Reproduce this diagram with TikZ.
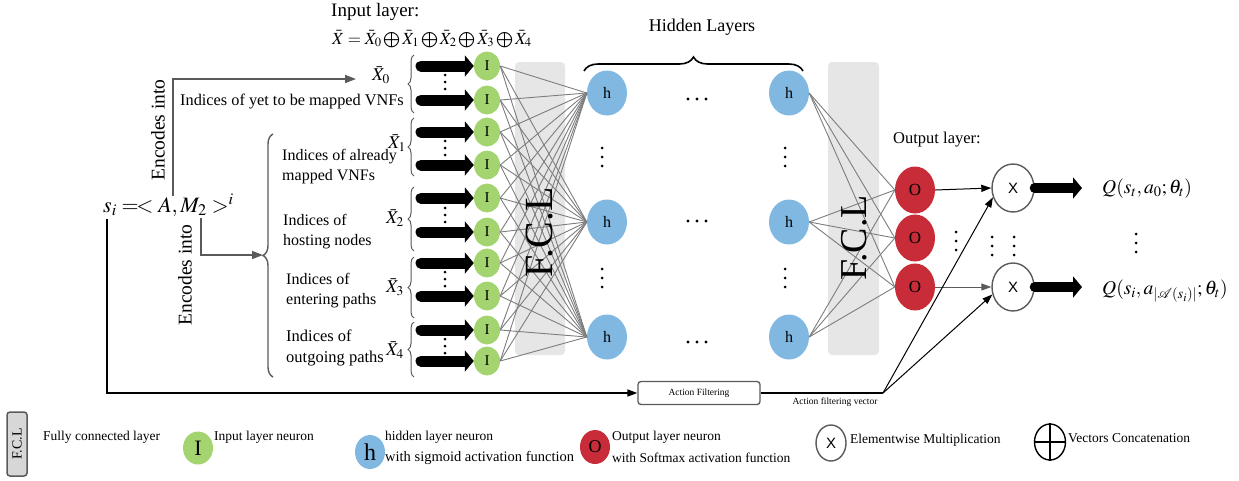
\documentclass[tikz,border=0pt]{standalone}
\usepackage{mathptmx}
\usepackage{fontspec}
\setmainfont{Liberation Serif}
\newfontfamily\xsans{Liberation Sans}
\usetikzlibrary{shapes.geometric,arrows.meta,decorations.pathreplacing,calc}
\definecolor{ingreen}{RGB}{163,212,112}
\definecolor{hblue}{RGB}{128,184,226}
\definecolor{ored}{RGB}{200,44,56}
\definecolor{fclgray}{RGB}{230,230,230}
\definecolor{wiregray}{RGB}{125,125,125}
\definecolor{linegray}{RGB}{90,90,90}
\newcommand{\setfs}[1]{\fontsize{#1}{1.25\dimexpr#1pt\relax}\selectfont}
\newcommand{\cc}{\,{\textstyle\bigoplus}\,}

\begin{document}
\begin{tikzpicture}[x=1pt,y=-1pt,
  inode/.style={ellipse,fill=ingreen,minimum width=26,minimum height=29,inner sep=0,font=\setfs{15}},
  hnode/.style={ellipse,fill=hblue,minimum width=40,minimum height=45,inner sep=0,font=\setfs{16}},
  onode/.style={ellipse,fill=ored,minimum width=40,minimum height=47,inner sep=0,font=\setfs{17}},
  xnode/.style={ellipse,draw=linegray,line width=1.4,fill=white,minimum width=42,minimum height=48,inner sep=0,font=\xsans\setfs{15}},
  fclbox/.style={rectangle,fill=fclgray,rounded corners=4,inner sep=0},
  fcltext/.style={rotate=90,font=\setfs{40}},
  wire/.style={draw=wiregray,line width=0.9},
  fat/.style={line width=11,line cap=round,-{Triangle[length=9pt,width=21pt]}},
  encarrow/.style={draw=linegray,line width=1.5,-{Triangle[length=11pt,width=8pt]}},
  grpbrace/.style={draw=linegray,line width=1,decorate,decoration={brace,amplitude=6}},
  txt/.style={font=\setfs{16},inner sep=0},
  sublab/.style={font=\setfs{18},inner sep=0},
  legtxt/.style={font=\setfs{13.5},inner sep=0,anchor=west},
  vdots/.pic={\fill (0,-#1) circle (1.5) (0,0) circle (1.5) (0,#1) circle (1.5);},
  hdots/.pic={\fill (-9,0) circle (1.7) (0,0) circle (1.7) (9,0) circle (1.7);}
]
\useasboundingbox (0,0) rectangle (1239,480);

% fully connected layer bands
\node[fclbox,minimum width=50,minimum height=293] (band1) at (540,208.5) {};
\node[fclbox,minimum width=51,minimum height=293] (band2) at (853.5,208.5) {};

% input neurons
\foreach \n/\y in {1/66,2/100,3/132,4/165,5/198,6/232,7/263,8/296,9/330,10/361}{
  \node[inode] (i\n) at (487,\y) {I};
  \coordinate (a\n) at (421,\y);
}
% hidden neurons
\foreach \n/\y in {1/93,2/222,3/337}{
  \node[hnode] (hl\n) at (607,\y) {h};
  \node[hnode] (hr\n) at (789,\y) {h};
}
% output neurons and products
\foreach \n/\y in {1/190,2/238,3/287}{
  \node[onode] (o\n) at (915,\y) {O};
}
\node[xnode] (x1) at (1013,188) {X};
\node[xnode] (x2) at (1013,287) {X};

% fully connected wiring
\foreach \i in {1,...,10}{
  \foreach \h in {1,2,3}{
    \draw[wire] (i\i.east) -- (hl\h.west);
  }
}
\foreach \h in {1,2,3}{
  \foreach \o in {1,2,3}{
    \draw[wire] (hr\h.east) -- (o\o.west);
  }
}
\node[fcltext] (fcl1) at (540,232) {F.C.L};
\node[fcltext,font=\setfs{38}] (fcl2) at (854,238) {F.C.L};

% fat input arrows
\foreach \n in {1,...,10}{
  \draw[fat] (a\n) -- (i\n.west);
}
\foreach \y in {82,148,215,279,346}{
  \pic at (445,\y) {vdots=7};
}

% group braces and sub-vector labels
\draw[grpbrace] (414,113) -- (414,55);
\draw[grpbrace] (414,176) -- (414,118);
\draw[grpbrace] (414,251) -- (414,187);
\draw[grpbrace] (414,318) -- (414,257);
\draw[grpbrace] (414,377) -- (414,322);
\node[sublab] (xb0) at (381,75) {$\bar X_0$};
\node[sublab] (xb1) at (397,143) {$\bar X_1$};
\node[sublab] (xb2) at (395,218) {$\bar X_2$};
\node[sublab] (xb3) at (395,287) {$\bar X_3$};
\node[sublab] (xb4) at (395,350) {$\bar X_4$};

% input layer heading
\node[txt,anchor=west,font=\setfs{19}] (inhead) at (331,12) {Input layer:};
\node[txt,anchor=west,font=\setfs{17}] (ineq) at (332,39)
  {$\bar X=\bar X_0\cc\bar X_1\cc\bar X_2\cc\bar X_3\cc\bar X_4$};

% hidden layers
\draw[draw=black,line width=1.6,decorate,decoration={brace,amplitude=14}] (584,71) -- (803,71);
\node[txt,font=\setfs{18}] (hidhead) at (702,27) {Hidden Layers};
\foreach \y in {99,221,342}{ \pic at (697,\y) {hdots}; }
\foreach \y in {157,278}{
  \pic at (602,\y) {vdots=9};
  \pic at (785,\y) {vdots=9};
}

% output side
\node[txt,anchor=west,font=\setfs{16.5}] (outhead) at (893,140) {Output layer:};
\draw[line width=1,-{Triangle[length=10pt,width=7pt]}] (o1.east) -- (x1.west);
\draw[draw=linegray,line width=1,-{Triangle[length=10pt,width=7pt]}] (o3.east) -- (x2.west);
\coordinate (q1) at (1082,188);
\coordinate (q2) at (1082,287);
\draw[fat,line width=10] (x1.east) -- (q1);
\draw[fat,line width=10] (x2.east) -- (q2);
\node[txt,anchor=west,font=\setfs{19.5}] (qa) at (1102,189) {$Q(s_t, a_0;\theta_t)$};
\node[txt,anchor=west,font=\setfs{19.5}] (qb) at (1102,291) {$Q(s_i, a_{|\mathcal{A}(s_i)|};\theta_t)$};
\pic at (956,241) {vdots=9};
\pic at (992,246) {vdots=9};
\pic at (1014,246) {vdots=9};
\pic at (1136,243) {vdots=9};

% state and its encodings
\node[txt,anchor=west,font=\setfs{22}] (si) at (103,205) {$s_i =\!<A, M_2>^{i}$};
\node[txt,rotate=90,font=\setfs{19.5}] (enc1) at (158,130) {Encodes into};
\node[txt,rotate=90,font=\setfs{19.5}] (enc2) at (185,275) {Encodes into};
\coordinate (e1) at (173,196);
\coordinate (e1t) at (356,79);
\draw[encarrow] (e1) |- (e1t);
\coordinate (e2) at (201,218);
\coordinate (bt) at (263,255);
\draw[encarrow] (e2) |- (bt);
\node[txt,anchor=west,font=\setfs{16.3}] (lab0) at (180,102) {Indices of yet to be mapped VNFs};
\draw[draw=linegray,line width=1.4,decorate,decoration={brace,amplitude=10}] (273,377) -- (273,134);
\node[txt,anchor=west,align=left] (lab1) at (282,167) {Indices of already\\mapped VNFs};
\node[txt,anchor=west,align=left] (lab2) at (283,232) {Indices of\\hosting nodes};
\node[txt,anchor=west,align=left] (lab3) at (286,291) {Indices of\\entering paths};
\node[txt,anchor=west,align=left,font=\setfs{16.5}] (lab4) at (286,348) {Indices of\\outgoing paths};

% action filtering
\node[draw=linegray,line width=1.3,rounded corners=3,minimum width=122,minimum height=23,inner sep=0,font=\setfs{9.5}] (af) at (699,393) {Action Filtering};
\coordinate (s0) at (107,219);
\coordinate (af1) at (883,393);
\draw[line width=1.5,-{Triangle[length=10pt,width=7pt]}] (s0) |- (af.west);
\draw[line width=1.5] (af.east) -- (af1);
\node[txt,font=\setfs{9.5}] (afv) at (835,402) {Action filtering vector};
\draw[line width=1,-{Triangle[length=10pt,width=7pt]}] (af1) -- (x1.205);
\draw[line width=1,-{Triangle[length=10pt,width=7pt]}] (af1) -- (x2.200);

% legend
\node[rectangle,draw=linegray,fill=fclgray!85!gray,line width=1.5,rounded corners=3,minimum width=20,minimum height=64,inner sep=0] (lgf) at (17,444) {};
\node[rotate=90,font=\setfs{14},inner sep=0] (lgft) at (17,444) {F.C.L};
\node[legtxt] (lgfl) at (43,437) {Fully connected layer};
\node[ellipse,fill=ingreen,minimum width=30,minimum height=33,inner sep=0,font=\setfs{22}] (lgi) at (198,448) {I};
\node[legtxt] (lgil) at (214,437) {Input layer neuron};
\node[ellipse,fill=hblue,minimum width=30,minimum height=34,inner sep=0,font=\setfs{24}] (lgh) at (370,452) {h};
\node[legtxt] (lghl) at (385,437) {hidden layer neuron};
\node[legtxt,font=\setfs{14.5}] (lghm) at (385,458) {with sigmoid activation function};
\node[ellipse,fill=ored,minimum width=30,minimum height=34,inner sep=0,font=\setfs{18}] (lgo) at (595,447) {O};
\node[legtxt] (lgol) at (612,437) {Output layer neuron};
\node[legtxt] (lgom) at (612,458) {with Softmax activation function};
\node[ellipse,draw=linegray,line width=1.4,minimum width=30,minimum height=36,inner sep=0,font=\xsans\setfs{15}] (lgx) at (831,443) {X};
\node[legtxt] (lgxl) at (850,440) {Elementwise Multiplication};
\node[ellipse,draw=black,line width=1.4,minimum width=31,minimum height=36,inner sep=0] (lgc) at (1050,442) {};
\draw[line width=1.4] (lgc.north) -- (lgc.south) (lgc.west) -- (lgc.east);
\node[legtxt] (lgcl) at (1068,438) {Vectors Concatenation};
\end{tikzpicture}
\end{document}
